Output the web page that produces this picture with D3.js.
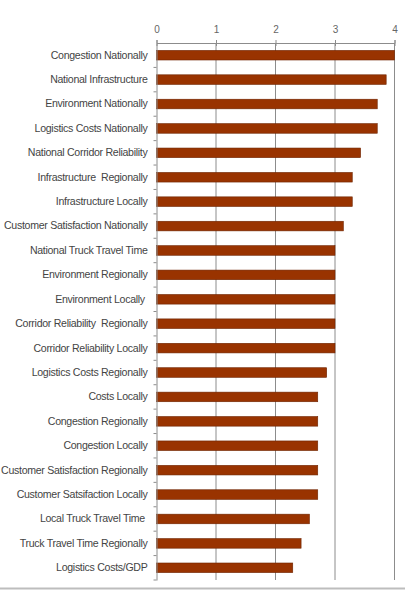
<!DOCTYPE html>
<html><head><meta charset="utf-8">
<script src="https://cdn.jsdelivr.net/npm/d3@7"></script>
<style>body{margin:0;background:#fff;} svg{display:block;}</style>
</head><body>
<script>
const categories = ["Congestion Nationally","National Infrastructure","Environment Nationally","Logistics Costs Nationally","National Corridor Reliability","Infrastructure  Regionally","Infrastructure Locally","Customer Satisfaction Nationally","National Truck Travel Time","Environment Regionally","Environment Locally ","Corridor Reliability  Regionally","Corridor Reliability Locally","Logistics Costs Regionally","Costs Locally","Congestion Regionally","Congestion Locally","Customer Satisfaction Regionally","Customer Satsifaction Locally","Local Truck Travel Time ","Truck Travel Time Regionally","Logistics Costs/GDP"];
const values = [4.0,3.86,3.71,3.71,3.43,3.29,3.29,3.14,3.0,3.0,3.0,3.0,3.0,2.86,2.71,2.71,2.71,2.71,2.71,2.57,2.43,2.29];
const tickValues = [0,1,2,3,4];

const W = 405, H = 593;
const svg = d3.select("body").append("svg").attr("width", W).attr("height", H);
const x = d3.scaleLinear().domain([0,4]).range([156.5, 394.5]);
const yb = d3.scaleBand().domain(categories).range([43, 580]);

// gridlines
svg.append("g").selectAll("line").data(tickValues.slice(1)).join("line")
  .attr("x1", d=>x(d)).attr("x2", d=>x(d)).attr("y1", 43).attr("y2", 580)
  .attr("stroke", "#8c8c8c").attr("stroke-width", 1);

// bars
svg.append("g").selectAll("rect").data(values).join("rect")
  .attr("x", x(0)).attr("y", (d,i)=>yb(categories[i]) + yb.bandwidth()/2 - 4.8)
  .attr("width", d=>x(d)-x(0)).attr("height", 9.6)
  .attr("fill", "#993300").attr("stroke", "#6e2400").attr("stroke-width", 0.6);

// top axis
const xAxis = svg.append("g").attr("transform", "translate(0,43)")
  .call(d3.axisTop(x).tickValues(tickValues).tickFormat(d3.format("d")).tickSize(3).tickPadding(7));
xAxis.select(".domain").attr("stroke", "#8c8c8c");
xAxis.selectAll(".tick line").attr("stroke", "#8c8c8c").attr("y2", 3).attr("y1", -3);
xAxis.selectAll("text").attr("fill", "#666").style("font-family", "Liberation Sans, Arial, sans-serif").style("font-size", "10px");

// left axis
const yAxis = svg.append("g").attr("transform", `translate(${x(0)},0)`)
  .call(d3.axisLeft(yb).tickSize(0).tickPadding(9));
yAxis.select(".domain").attr("stroke", "#8c8c8c");
yAxis.selectAll("text").attr("fill", "#444").style("font-family", "Liberation Sans, Arial, sans-serif").style("font-size", "10.6px").style("letter-spacing", "-0.3px").style("white-space","pre");
// boundary ticks
svg.append("g").selectAll("line").data(categories.slice(1).concat(["__end"])).join("line")
  .attr("x1", x(0)-3).attr("x2", x(0))
  .attr("y1", (d,i)=> i < categories.length-1 ? yb(d) : 580)
  .attr("y2", (d,i)=> i < categories.length-1 ? yb(d) : 580)
  .attr("stroke", "#8c8c8c");

// bottom rule
svg.append("line").attr("x1", 0).attr("x2", W).attr("y1", 588.5).attr("y2", 588.5)
  .attr("stroke", "#bdbdbd").attr("stroke-width", 2);
</script>
</body></html>
